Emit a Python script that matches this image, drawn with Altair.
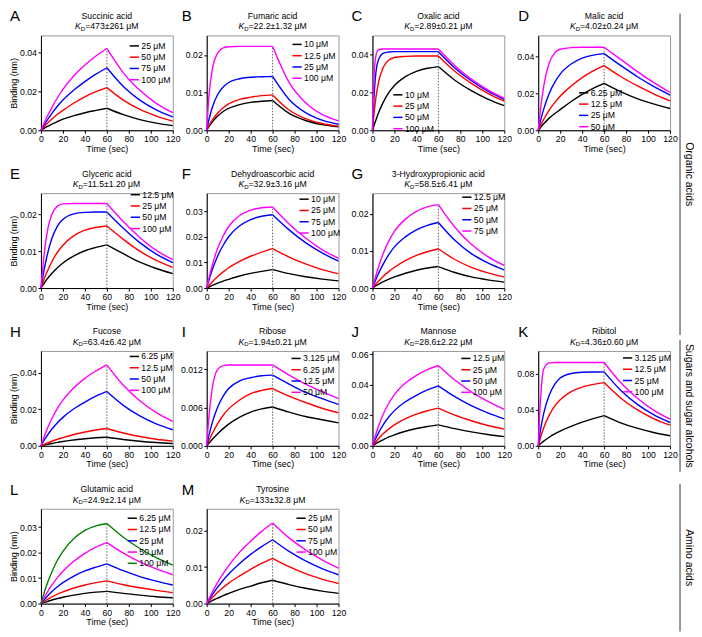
import altair as alt
import pandas as pd

FONT = "Liberation Sans"
T_ON = [0, 2, 5, 10, 15, 20, 30, 40, 50, 60]
T_OFF = [60, 75, 90, 105, 120]
X_TICKS = [0, 20, 40, 60, 80, 100, 120]
COLORS = ["#000000", "#ff0000", "#0000ff", "#ff00ff", "#008000"]

# ---------------- A: Succinic acid ----------------
A_NAME = "Succinic acid"
A_KD = "=473±261 μM"
A_CONC = ["25 μM", "50 μM", "75 μM", "100 μM"]
A_ON = [
    [0, 0.0007, 0.0017, 0.0032, 0.0045, 0.0057, 0.0075, 0.0090, 0.0102, 0.0113],
    [0, 0.0013, 0.0031, 0.0058, 0.0082, 0.0102, 0.0140, 0.0172, 0.0198, 0.0219],
    [0, 0.0019, 0.0046, 0.0087, 0.0123, 0.0155, 0.0207, 0.0250, 0.0288, 0.0321],
    [0, 0.0026, 0.0063, 0.0118, 0.0167, 0.0210, 0.0280, 0.0335, 0.0381, 0.0420],
]
A_OFF = [
    [0.0113, 0.0080, 0.0055, 0.0037, 0.0024],
    [0.0219, 0.0155, 0.0107, 0.0073, 0.0047],
    [0.0321, 0.0225, 0.0155, 0.0105, 0.0069],
    [0.0420, 0.0295, 0.0205, 0.0138, 0.0090],
]
A_YMAX = 0.0487
A_YTICKS = [0, 0.02, 0.04]

# ---------------- B: Fumaric acid ----------------
B_NAME = "Fumaric acid"
B_KD = "=22.2±1.32 μM"
B_CONC = ["10 μM", "12.5 μM", "25 μM", "100 μM"]
B_ON = [
    [0, 0.0010, 0.0022, 0.0038, 0.0050, 0.0058, 0.0068, 0.0074, 0.0077, 0.0079],
    [0, 0.0012, 0.0027, 0.0046, 0.0060, 0.0070, 0.0082, 0.0088, 0.0092, 0.0094],
    [0, 0.0028, 0.0060, 0.0095, 0.0115, 0.0127, 0.0137, 0.0141, 0.0142, 0.0143],
    [0, 0.0090, 0.0160, 0.0205, 0.0219, 0.0222, 0.0223, 0.0223, 0.0223, 0.0223],
]
B_OFF = [
    [0.0079, 0.0045, 0.0026, 0.0015, 0.0009],
    [0.0094, 0.0054, 0.0031, 0.0018, 0.0011],
    [0.0143, 0.0082, 0.0047, 0.0027, 0.0016],
    [0.0223, 0.0127, 0.0073, 0.0042, 0.0025],
]
B_YMAX = 0.0252
B_YTICKS = [0, 0.01, 0.02]

# ---------------- C: Oxalic acid ----------------
C_NAME = "Oxalic acid"
C_KD = "=2.89±0.21 μM"
C_CONC = ["10 μM", "25 μM", "50 μM", "100 μM"]
C_ON = [
    [0, 0.0035, 0.0085, 0.0150, 0.0200, 0.0237, 0.0284, 0.0312, 0.0328, 0.0337],
    [0, 0.0120, 0.0240, 0.0335, 0.0372, 0.0385, 0.0391, 0.0393, 0.0393, 0.0393],
    [0, 0.0230, 0.0365, 0.0408, 0.0414, 0.0416, 0.0416, 0.0416, 0.0416, 0.0416],
    [0, 0.0345, 0.0425, 0.0430, 0.0430, 0.0430, 0.0430, 0.0430, 0.0430, 0.0430],
]
C_OFF = [
    [0.0337, 0.0265, 0.0210, 0.0165, 0.0130],
    [0.0393, 0.0312, 0.0248, 0.0195, 0.0154],
    [0.0416, 0.0330, 0.0262, 0.0207, 0.0164],
    [0.0430, 0.0342, 0.0271, 0.0214, 0.0169],
]
C_YMAX = 0.0502
C_YTICKS = [0, 0.02, 0.04]

# ---------------- D: Malic acid ----------------
D_NAME = "Malic acid"
D_KD = "=4.02±0.24 μM"
D_CONC = ["6.25 μM", "12.5 μM", "25 μM", "50 μM"]
D_ON = [
    [0, 0.0014, 0.0035, 0.0066, 0.0090, 0.0112, 0.0156, 0.0195, 0.0228, 0.0255],
    [0, 0.0025, 0.0060, 0.0110, 0.0150, 0.0185, 0.0240, 0.0286, 0.0322, 0.0351],
    [0, 0.0050, 0.0115, 0.0200, 0.0260, 0.0305, 0.0360, 0.0392, 0.0408, 0.0416],
    [0, 0.0110, 0.0240, 0.0365, 0.0420, 0.0440, 0.0449, 0.0451, 0.0451, 0.0451],
]
D_OFF = [
    [0.0255, 0.0210, 0.0172, 0.0143, 0.0118],
    [0.0351, 0.0292, 0.0242, 0.0198, 0.0160],
    [0.0416, 0.0352, 0.0292, 0.0238, 0.0191],
    [0.0451, 0.0385, 0.0320, 0.0260, 0.0205],
]
D_YMAX = 0.0515
D_YTICKS = [0, 0.02, 0.04]

# ---------------- E: Glyceric acid ----------------
E_NAME = "Glyceric acid"
E_KD = "=11.5±1.20 μM"
E_CONC = ["12.5 μM", "25 μM", "50 μM", "100 μM"]
E_ON = [
    [0, 0.0009, 0.0022, 0.0040, 0.0055, 0.0068, 0.0087, 0.0101, 0.0110, 0.0117],
    [0, 0.0017, 0.0040, 0.0072, 0.0097, 0.0116, 0.0142, 0.0157, 0.0164, 0.0168],
    [0, 0.0035, 0.0080, 0.0135, 0.0168, 0.0186, 0.0201, 0.0205, 0.0206, 0.0206],
    [0, 0.0065, 0.0140, 0.0200, 0.0222, 0.0228, 0.0229, 0.0229, 0.0229, 0.0229],
]
E_OFF = [
    [0.0117, 0.0093, 0.0070, 0.0053, 0.0039],
    [0.0168, 0.0132, 0.0100, 0.0075, 0.0056],
    [0.0206, 0.0162, 0.0123, 0.0092, 0.0069],
    [0.0229, 0.0180, 0.0137, 0.0102, 0.0077],
]
E_YMAX = 0.0257
E_YTICKS = [0, 0.01, 0.02]

# ---------------- F: Dehydroascorbic acid ----------------
F_NAME = "Dehydroascorbic acid"
F_KD = "=32.9±3.16 μM"
F_CONC = ["10 μM", "25 μM", "75 μM", "100 μM"]
F_ON = [
    [0, 0.0004, 0.0010, 0.0019, 0.0027, 0.0034, 0.0047, 0.0057, 0.0065, 0.0072],
    [0, 0.0010, 0.0024, 0.0045, 0.0063, 0.0079, 0.0104, 0.0124, 0.0140, 0.0154],
    [0, 0.0030, 0.0070, 0.0125, 0.0167, 0.0200, 0.0243, 0.0267, 0.0280, 0.0286],
    [0, 0.0038, 0.0088, 0.0155, 0.0203, 0.0240, 0.0283, 0.0304, 0.0313, 0.0316],
]
F_OFF = [
    [0.0072, 0.0056, 0.0044, 0.0035, 0.0028],
    [0.0154, 0.0121, 0.0094, 0.0072, 0.0056],
    [0.0286, 0.0227, 0.0177, 0.0137, 0.0105],
    [0.0316, 0.0250, 0.0195, 0.0150, 0.0116],
]
F_YMAX = 0.037
F_YTICKS = [0, 0.01, 0.02, 0.03]

# ---------------- G: 3-Hydroxypropionic acid ----------------
G_NAME = "3-Hydroxypropionic acid"
G_KD = "=58.5±6.41 μM"
G_CONC = ["12.5 μM", "25 μM", "50 μM", "75 μM"]
G_ON = [
    [0, 0.0004, 0.0009, 0.0017, 0.0024, 0.0030, 0.0040, 0.0048, 0.0054, 0.0058],
    [0, 0.0007, 0.0017, 0.0032, 0.0045, 0.0056, 0.0074, 0.0088, 0.0098, 0.0106],
    [0, 0.0015, 0.0036, 0.0066, 0.0091, 0.0111, 0.0138, 0.0157, 0.0169, 0.0177],
    [0, 0.0022, 0.0052, 0.0095, 0.0128, 0.0153, 0.0186, 0.0207, 0.0219, 0.0225],
]
G_OFF = [
    [0.0058, 0.0042, 0.0030, 0.0022, 0.0016],
    [0.0106, 0.0077, 0.0056, 0.0041, 0.0030],
    [0.0177, 0.0129, 0.0093, 0.0068, 0.0049],
    [0.0225, 0.0164, 0.0118, 0.0085, 0.0061],
]
G_YMAX = 0.0256
G_YTICKS = [0, 0.01, 0.02]

# ---------------- H: Fucose ----------------
H_NAME = "Fucose"
H_KD = "=63.4±6.42 μM"
H_CONC = ["6.25 μM", "12.5 μM", "50 μM", "100 μM"]
H_ON = [
    [0, 0.0003, 0.0007, 0.0013, 0.0019, 0.0024, 0.0032, 0.0039, 0.0044, 0.0047],
    [0, 0.0005, 0.0013, 0.0025, 0.0036, 0.0045, 0.0062, 0.0076, 0.0087, 0.0095],
    [0, 0.0021, 0.0050, 0.0092, 0.0127, 0.0156, 0.0203, 0.0240, 0.0272, 0.0298],
    [0, 0.0035, 0.0083, 0.0150, 0.0205, 0.0250, 0.0318, 0.0370, 0.0410, 0.0444],
]
H_OFF = [
    [0.0047, 0.0035, 0.0025, 0.0018, 0.0013],
    [0.0095, 0.0070, 0.0051, 0.0036, 0.0026],
    [0.0298, 0.0222, 0.0164, 0.0120, 0.0088],
    [0.0444, 0.0332, 0.0247, 0.0182, 0.0134],
]
H_YMAX = 0.052
H_YTICKS = [0, 0.02, 0.04]

# ---------------- I: Ribose ----------------
I_NAME = "Ribose"
I_KD = "=1.94±0.21 μM"
I_CONC = ["3.125 μM", "6.25 μM", "12.5 μM", "50 μM"]
I_ON = [
    [0, 0.0004, 0.0010, 0.0019, 0.0027, 0.0034, 0.0045, 0.0053, 0.0058, 0.0061],
    [0, 0.0008, 0.0019, 0.0035, 0.0048, 0.0058, 0.0072, 0.0082, 0.0087, 0.0090],
    [0, 0.0016, 0.0036, 0.0061, 0.0078, 0.0090, 0.0102, 0.0107, 0.0110, 0.0111],
    [0, 0.0045, 0.0090, 0.0120, 0.0126, 0.0127, 0.0127, 0.0127, 0.0127, 0.0127],
]
I_OFF = [
    [0.0061, 0.0053, 0.0046, 0.0041, 0.0036],
    [0.0090, 0.0078, 0.0068, 0.0059, 0.0052],
    [0.0111, 0.0097, 0.0084, 0.0074, 0.0065],
    [0.0127, 0.0111, 0.0097, 0.0085, 0.0074],
]
I_YMAX = 0.0149
I_YTICKS = [0, 0.006, 0.012]

# ---------------- J: Mannose ----------------
J_NAME = "Mannose"
J_KD = "=28.6±2.22 μM"
J_CONC = ["12.5 μM", "25 μM", "50 μM", "100 μM"]
J_ON = [
    [0, 0.0009, 0.0022, 0.0041, 0.0058, 0.0072, 0.0095, 0.0113, 0.0126, 0.0137],
    [0, 0.0018, 0.0043, 0.0080, 0.0111, 0.0137, 0.0177, 0.0207, 0.0229, 0.0246],
    [0, 0.0033, 0.0078, 0.0140, 0.0190, 0.0230, 0.0288, 0.0330, 0.0365, 0.0392],
    [0, 0.0050, 0.0118, 0.0210, 0.0280, 0.0335, 0.0410, 0.0460, 0.0498, 0.0525],
]
J_OFF = [
    [0.0137, 0.0112, 0.0091, 0.0074, 0.0060],
    [0.0246, 0.0200, 0.0164, 0.0133, 0.0109],
    [0.0392, 0.0321, 0.0262, 0.0215, 0.0176],
    [0.0525, 0.0430, 0.0353, 0.0290, 0.0238],
]
J_YMAX = 0.062
J_YTICKS = [0, 0.02, 0.04, 0.06]

# ---------------- K: Ribitol ----------------
K_NAME = "Ribitol"
K_KD = "=4.36±0.60 μM"
K_CONC = ["3.125 μM", "12.5 μM", "25 μM", "100 μM"]
K_ON = [
    [0, 0.0022, 0.0052, 0.0095, 0.0132, 0.0163, 0.0215, 0.0262, 0.0301, 0.0335],
    [0, 0.0090, 0.0200, 0.0340, 0.0440, 0.0510, 0.0600, 0.0650, 0.0680, 0.0700],
    [0, 0.0170, 0.0360, 0.0560, 0.0680, 0.0750, 0.0800, 0.0814, 0.0817, 0.0818],
    [0, 0.0500, 0.0850, 0.0918, 0.0922, 0.0922, 0.0922, 0.0922, 0.0922, 0.0922],
]
K_OFF = [
    [0.0335, 0.0255, 0.0195, 0.0148, 0.0112],
    [0.0700, 0.0530, 0.0400, 0.0302, 0.0229],
    [0.0818, 0.0615, 0.0462, 0.0345, 0.0258],
    [0.0922, 0.0700, 0.0530, 0.0395, 0.0295],
]
K_YMAX = 0.105
K_YTICKS = [0, 0.04, 0.08]

# ---------------- L: Glutamic acid ----------------
L_NAME = "Glutamic acid"
L_KD = "=24.9±2.14 μM"
L_CONC = ["6.25 μM", "12.5 μM", "25 μM", "50 μM", "100 μM"]
L_ON = [
    [0, 0.0003, 0.0007, 0.0014, 0.0020, 0.0025, 0.0033, 0.0040, 0.0045, 0.0048],
    [0, 0.0006, 0.0014, 0.0026, 0.0037, 0.0046, 0.0061, 0.0073, 0.0082, 0.0089],
    [0, 0.0010, 0.0025, 0.0047, 0.0066, 0.0082, 0.0108, 0.0128, 0.0143, 0.0156],
    [0, 0.0016, 0.0039, 0.0073, 0.0102, 0.0127, 0.0166, 0.0197, 0.0221, 0.0239],
    [0, 0.0030, 0.0070, 0.0125, 0.0170, 0.0205, 0.0255, 0.0287, 0.0305, 0.0314],
]
L_OFF = [
    [0.0048, 0.0040, 0.0033, 0.0027, 0.0023],
    [0.0089, 0.0074, 0.0062, 0.0052, 0.0043],
    [0.0156, 0.0129, 0.0106, 0.0088, 0.0073],
    [0.0239, 0.0198, 0.0164, 0.0136, 0.0113],
    [0.0314, 0.0260, 0.0216, 0.0180, 0.0151],
]
L_YMAX = 0.0372
L_YTICKS = [0, 0.01, 0.02, 0.03]

# ---------------- M: Tyrosine ----------------
M_NAME = "Tyrosine"
M_KD = "=133±32.8 μM"
M_CONC = ["25 μM", "50 μM", "75 μM", "100 μM"]
M_ON = [
    [0, 0.0003, 0.0008, 0.0015, 0.0022, 0.0028, 0.0039, 0.0048, 0.0057, 0.0064],
    [0, 0.0007, 0.0016, 0.0031, 0.0044, 0.0056, 0.0076, 0.0094, 0.0110, 0.0124],
    [0, 0.0010, 0.0024, 0.0045, 0.0064, 0.0081, 0.0110, 0.0135, 0.0156, 0.0175],
    [0, 0.0013, 0.0031, 0.0058, 0.0082, 0.0104, 0.0141, 0.0171, 0.0198, 0.0221],
]
M_OFF = [
    [0.0064, 0.0052, 0.0042, 0.0034, 0.0028],
    [0.0124, 0.0101, 0.0082, 0.0067, 0.0055],
    [0.0175, 0.0143, 0.0117, 0.0096, 0.0079],
    [0.0221, 0.0180, 0.0147, 0.0120, 0.0097],
]
M_YMAX = 0.026
M_YTICKS = [0, 0.01, 0.02]

GROUPS = ["Organic acids", "Sugars and sugar alcohols", "Amino acids"]

# layout / style settings
W, H = 132, 95
FS = 8.7
LETTER_DX = [-31, -25, -21, -20]

PANELS = [
    dict(letter="A", name=A_NAME, kd=A_KD, conc=A_CONC, on=A_ON, off=A_OFF, ymax=A_YMAX, yt=A_YTICKS, fmt=".2f", leg=(88, 5)),
    dict(letter="B", name=B_NAME, kd=B_KD, conc=B_CONC, on=B_ON, off=B_OFF, ymax=B_YMAX, yt=B_YTICKS, fmt=".2f", leg=(85, 3.5)),
    dict(letter="C", name=C_NAME, kd=C_KD, conc=C_CONC, on=C_ON, off=C_OFF, ymax=C_YMAX, yt=C_YTICKS, fmt=".2f", leg=(20, 54)),
    dict(letter="D", name=D_NAME, kd=D_KD, conc=D_CONC, on=D_ON, off=D_OFF, ymax=D_YMAX, yt=D_YTICKS, fmt=".2f", leg=(40, 52)),
    dict(letter="E", name=E_NAME, kd=E_KD, conc=E_CONC, on=E_ON, off=E_OFF, ymax=E_YMAX, yt=E_YTICKS, fmt=".2f", leg=(89, -4)),
    dict(letter="F", name=F_NAME, kd=F_KD, conc=F_CONC, on=F_ON, off=F_OFF, ymax=F_YMAX, yt=F_YTICKS, fmt=".2f", leg=(92, 0.5)),
    dict(letter="G", name=G_NAME, kd=G_KD, conc=G_CONC, on=G_ON, off=G_OFF, ymax=G_YMAX, yt=G_YTICKS, fmt=".2f", leg=(89, -1.5)),
    None,
    dict(letter="H", name=H_NAME, kd=H_KD, conc=H_CONC, on=H_ON, off=H_OFF, ymax=H_YMAX, yt=H_YTICKS, fmt=".2f", leg=(88, 0)),
    dict(letter="I", name=I_NAME, kd=I_KD, conc=I_CONC, on=I_ON, off=I_OFF, ymax=I_YMAX, yt=I_YTICKS, fmt=".3f", leg=(84, 2)),
    dict(letter="J", name=J_NAME, kd=J_KD, conc=J_CONC, on=J_ON, off=J_OFF, ymax=J_YMAX, yt=J_YTICKS, fmt=".2f", leg=(88, 2)),
    dict(letter="K", name=K_NAME, kd=K_KD, conc=K_CONC, on=K_ON, off=K_OFF, ymax=K_YMAX, yt=K_YTICKS, fmt=".2f", leg=(84, 1.5)),
    dict(letter="L", name=L_NAME, kd=L_KD, conc=L_CONC, on=L_ON, off=L_OFF, ymax=L_YMAX, yt=L_YTICKS, fmt=".2f", leg=(86, 4)),
    dict(letter="M", name=M_NAME, kd=M_KD, conc=M_CONC, on=M_ON, off=M_OFF, ymax=M_YMAX, yt=M_YTICKS, fmt=".2f", leg=(89, 4)),
]

# approximate Arial advance widths (per 1000 em) for centring the K_D line
ADV = {".": 278, "=": 584, "±": 549, " ": 278, "μ": 576, "M": 833, "K": 667, "D": 722}


def tw(s, size):
    return sum(ADV.get(ch, 556) for ch in s) * size / 1000.0


ONE = pd.DataFrame({"a": [0]})


def txt(text, x, y, size=FS, **kw):
    return alt.Chart(ONE).mark_text(
        text=text, font=FONT, fontSize=size, color="black", **kw
    ).encode(x=alt.value(x), y=alt.value(y))


AX = dict(labelOverlap=False, labelFlush=False, titleFontWeight="normal",
          labelFontSize=FS, titleFontSize=FS + 0.3, labelFont=FONT, titleFont=FONT,
          labelBound=False, labelSeparation=0)


def make_panel(p, col):
    rows = []
    for lab, on, off in zip(p["conc"], p["on"], p["off"]):
        for t, v in zip(T_ON, on):
            rows.append({"t": t, "v": v, "c": lab, "ph": "on"})
        for t, v in zip(T_OFF, off):
            rows.append({"t": t, "v": v, "c": lab, "ph": "off"})
    df = pd.DataFrame(rows)
    peak = max(o[-1] for o in p["on"])
    rdf = pd.DataFrame({"t": [60], "lo": [0.0], "hi": [peak]})

    xs = alt.Scale(domain=[0, 120], nice=False, zero=False)
    ys = alt.Scale(domain=[0, p["ymax"]], nice=False, zero=False)
    xax = alt.Axis(values=X_TICKS, title="Time (sec)", format="d", titlePadding=1, **AX)
    if col == 0:
        yax = alt.Axis(values=p["yt"], format=p["fmt"], title="Binding (nm)",
                       titlePadding=1.5, **AX)
    else:
        yax = alt.Axis(values=p["yt"], format=p["fmt"], title=None, **AX)

    n = len(p["conc"])
    lx, ly = p["leg"]
    legend = alt.Legend(
        title=None, orient="none", legendX=lx, legendY=ly,
        symbolType="stroke", symbolSize=85, symbolStrokeWidth=1.5,
        labelFont=FONT, labelFontSize=FS, labelColor="black",
        rowPadding=0.3, padding=0, labelOffset=1.5, labelLimit=0,
    )
    lines = alt.Chart(df).mark_line(strokeWidth=1.4, interpolate="monotone").encode(
        x=alt.X("t:Q", scale=xs, axis=xax),
        y=alt.Y("v:Q", scale=ys, axis=yax),
        color=alt.Color("c:N", scale=alt.Scale(domain=p["conc"], range=COLORS[:n]), legend=legend),
        detail="ph:N",
    )
    rule = alt.Chart(rdf).mark_rule(color="#555555", strokeDash=[1.5, 1.5], strokeWidth=0.9).encode(
        x=alt.X("t:Q", scale=xs, axis=xax), y=alt.Y("lo:Q", scale=ys, axis=yax), y2="hi:Q"
    )

    # titles
    cx = W / 2
    t1 = txt(p["name"], cx, -19.5, FS, align="center", baseline="middle")
    wK, wD, wR = tw("K", FS), tw("D", 6), tw(p["kd"], FS)
    x0 = cx - (wK + wD + wR) / 2
    tk = txt("K", x0, -9, FS, align="left", baseline="middle", fontStyle="italic")
    td = txt("D", x0 + wK, -6.5, 6, align="left", baseline="middle")
    tr = txt(p["kd"], x0 + wK + wD, -9, FS, align="left", baseline="middle")
    letter = txt(p["letter"], LETTER_DX[col], -14, 15, align="left", baseline="alphabetic")

    layers = [lines, rule, t1, tk, td, tr, letter]

    def grp(label, y1, y2):
        r = alt.Chart(ONE).mark_rule(color="black", strokeWidth=0.8).encode(
            x=alt.value(W + 10), y=alt.value(y1), y2=alt.value(y2)
        )
        t = txt(label, W + 18.5, (y1 + y2) / 2, 10.5, align="center", baseline="middle", angle=90)
        return [r, t]

    if p["letter"] == "D":
        layers += grp(GROUPS[0], -22, 300)
    if p["letter"] == "K":
        layers += grp(GROUPS[1], -11, 121)
        layers += grp(GROUPS[2], 133, 281)

    return alt.layer(*layers).properties(width=W, height=H)


def blank():
    return alt.Chart(ONE).mark_point(opacity=0).encode(
        x=alt.X("a:Q", axis=None), y=alt.Y("a:Q", axis=None)
    ).properties(width=W, height=H, view=alt.ViewBackground(strokeOpacity=0))


charts = []
for i, p in enumerate(PANELS):
    if p is None:
        charts.append(blank())
    else:
        charts.append(make_panel(p, i % 4))

chart = alt.concat(
    *charts, columns=4, spacing={"row": 63, "column": 34}, bounds="flush", align="all"
).resolve_scale(
    x="independent", y="independent", color="independent"
).resolve_legend(color="independent").properties(
    padding={"left": 0, "top": 0, "right": 0, "bottom": 0}
).configure_view(
    stroke="#9a9a9a", strokeWidth=1
).configure_axis(
    labelFont=FONT, titleFont=FONT, labelFontSize=FS, titleFontSize=FS + 0.3,
    titleFontWeight="normal", labelColor="black", titleColor="black",
    domainColor="black", tickColor="black", tickSize=3, labelPadding=1.5,
    titlePadding=1.5, grid=False, labelFlush=False, labelOverlap=False,
    domainWidth=1, tickWidth=1,
)

chart.save("out.html", embed_options={"renderer": "svg", "actions": False})
